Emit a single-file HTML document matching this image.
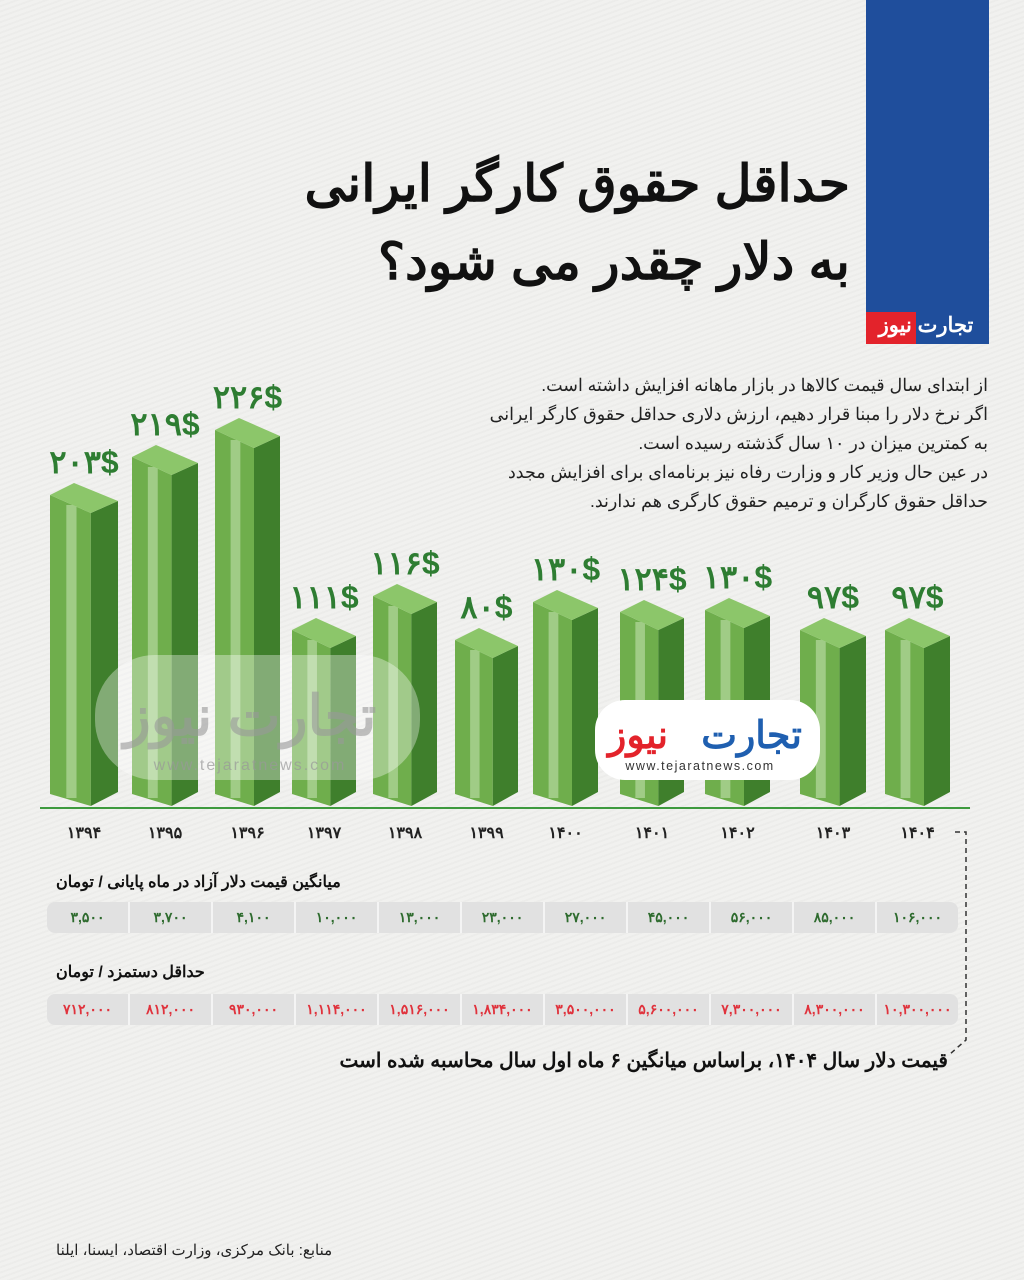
<!DOCTYPE html>
<html><head><meta charset="utf-8">
<style>
html,body{margin:0;padding:0}
body{width:1024px;height:1280px;position:relative;overflow:hidden;background:#f1f1ef;font-family:"Liberation Sans","Noto Sans CJK SC",sans-serif;}
.bg{position:absolute;inset:0;background:repeating-linear-gradient(160deg,rgba(0,0,0,0.018) 0 2px,transparent 2px 5px);}
.t{position:absolute;white-space:nowrap;direction:rtl;}
</style></head><body>
<div class="bg"></div>
<div style="position:absolute;left:866px;top:0;width:123px;height:312px;background:#1f4e9c"></div>
<div style="position:absolute;left:866px;top:312px;width:123px;height:32px;background:#1f4e9c"></div>
<div style="position:absolute;left:866px;top:312px;width:50px;height:32px;background:#e3232b"></div>
<div class="t" style="left:866px;top:313px;width:120px;text-align:center;direction:ltr;color:#fff;font-weight:bold;font-size:21px">تجارت نیوز</div>

<div class="t" style="right:174px;top:152px;font-size:51px;font-weight:bold;color:#111;line-height:64px">حداقل حقوق کارگر ایرانی</div>
<div class="t" style="right:174px;top:230px;font-size:51px;font-weight:bold;color:#111;line-height:64px">به دلار چقدر می شود؟</div>

<div class="t" style="right:36px;top:371px;font-size:17.5px;color:#222;line-height:29px;text-align:right">از ابتدای سال قیمت کالاها در بازار ماهانه افزایش داشته است.<br>اگر نرخ دلار را مبنا قرار دهیم، ارزش دلاری حداقل حقوق کارگر ایرانی<br>به کمترین میزان در ۱۰ سال گذشته رسیده است.<br>در عین حال وزیر کار و وزارت رفاه نیز برنامه‌ای برای افزایش مجدد<br>حداقل حقوق کارگران و ترمیم حقوق کارگری هم ندارند.</div>

<svg width="1024" height="1280" style="position:absolute;left:0;top:0">
<g id="bars"></g>
<line x1="40" y1="808" x2="970" y2="808" stroke="#3e9a3e" stroke-width="2"/>
<rect x="95" y="655" width="325" height="125" rx="60" fill="#fff" opacity="0.35"/>
<text x="250" y="735" font-size="56" font-weight="bold" fill="#999" opacity="0.6" text-anchor="middle" font-family="Liberation Sans, Noto Sans CJK SC, sans-serif">تجارت نیوز</text>
<text x="250" y="770" font-size="16" fill="#999" opacity="0.7" text-anchor="middle" letter-spacing="2" font-family="Liberation Sans, sans-serif">www.tejaratnews.com</text>
<rect x="595" y="700" width="225" height="80" rx="30" fill="#fff"/>
<text x="802" y="748" font-size="38" font-weight="bold" fill="#1f5fb0" text-anchor="end" font-family="Liberation Sans, Noto Sans CJK SC, sans-serif">تجارت</text>
<text x="608" y="748" font-size="38" font-weight="bold" fill="#e3232b" text-anchor="start" font-family="Liberation Sans, Noto Sans CJK SC, sans-serif">نیوز</text>
<text x="700" y="770" font-size="12.5" fill="#333" text-anchor="middle" letter-spacing="1.5" font-family="Liberation Sans, sans-serif">www.tejaratnews.com</text>
<path d="M955 832 H966 V1040 L950 1054" fill="none" stroke="#333" stroke-width="1.5" stroke-dasharray="5,4"/>
</svg>

<script>
var d=[[50,118,483,"۲۰۳$",1394],[132,198,445,"۲۱۹$",1395],[215,280,418,"۲۲۶$",1396],[292,356,618,"۱۱۱$",1397],[373,437,584,"۱۱۶$",1398],[455,518,628,"۸۰$",1399],[533,598,590,"۱۳۰$",1400],[620,684,600,"۱۲۴$",1401],[705,770,598,"۱۳۰$",1402],[800,866,618,"۹۷$",1403],[885,950,618,"۹۷$",1404]];
var fa=["۱۳۹۴","۱۳۹۵","۱۳۹۶","۱۳۹۷","۱۳۹۸","۱۳۹۹","۱۴۰۰","۱۴۰۱","۱۴۰۲","۱۴۰۳","۱۴۰۴"];
var g=document.getElementById('bars'),h='',B=806;
d.forEach(function(b,i){var x0=b[0],x1=b[1],t=b[2],xm=x0+(x1-x0)*0.6;
h+='<polygon points="'+x0+','+(t+12)+' '+xm+','+(t+30)+' '+xm+','+B+' '+x0+','+(B-12)+'" fill="#6fae4c"/>';
h+='<rect x="'+(x0+(xm-x0)*0.4)+'" y="'+(t+22)+'" width="'+((xm-x0)*0.25)+'" height="'+(B-t-30)+'" fill="#b5d9a0" opacity="0.7"/>';
h+='<polygon points="'+xm+','+(t+30)+' '+x1+','+(t+18)+' '+x1+','+(B-14)+' '+xm+','+B+'" fill="#3f7f2c"/>';
h+='<polygon points="'+x0+','+(t+12)+' '+(x0+24)+','+t+' '+x1+','+(t+18)+' '+xm+','+(t+30)+'" fill="#8cc66a"/>';
h+='<text x="'+((x0+x1)/2)+'" y="'+(t-10)+'" font-size="32" font-weight="bold" fill="#2e7d32" text-anchor="middle" font-family="Liberation Sans, Noto Sans CJK SC, sans-serif">'+b[3]+'</text>';
h+='<text x="'+((x0+x1)/2)+'" y="838" font-size="16" font-weight="bold" fill="#222" text-anchor="middle" font-family="Liberation Sans, Noto Sans CJK SC, sans-serif">'+fa[i]+'</text>';
});
g.innerHTML=h;
var r1=["۳,۵۰۰","۳,۷۰۰","۴,۱۰۰","۱۰,۰۰۰","۱۳,۰۰۰","۲۳,۰۰۰","۲۷,۰۰۰","۴۵,۰۰۰","۵۶,۰۰۰","۸۵,۰۰۰","۱۰۶,۰۰۰"];
var r2=["۷۱۲,۰۰۰","۸۱۲,۰۰۰","۹۳۰,۰۰۰","۱,۱۱۴,۰۰۰","۱,۵۱۶,۰۰۰","۱,۸۳۴,۰۰۰","۳,۵۰۰,۰۰۰","۵,۶۰۰,۰۰۰","۷,۳۰۰,۰۰۰","۸,۳۰۰,۰۰۰","۱۰,۳۰۰,۰۰۰"];
function row(arr,top,col){var s='<div style="position:absolute;left:47px;top:'+top+'px;width:911px;height:31px;background:#e1e1e1;border-radius:8px;display:flex">';
arr.forEach(function(v,i){s+='<div style="flex:1;text-align:center;line-height:31px;font-size:14px;font-weight:bold;color:'+col+';'+(i<10?'border-right:2px solid #f4f4f4;':'')+'">'+v+'</div>';});
return s+'</div>';}
document.body.insertAdjacentHTML('beforeend',row(r1,902,'#2e6b2e')+row(r2,994,'#e0323c'));
</script>
<div class="t" style="left:56px;top:872px;font-size:16px;font-weight:bold;color:#111">میانگین قیمت دلار آزاد در ماه پایانی / تومان</div>
<div class="t" style="left:56px;top:962px;font-size:16px;font-weight:bold;color:#111">حداقل دستمزد / تومان</div>
<div class="t" style="right:76px;top:1048px;font-size:20px;font-weight:bold;color:#111">قیمت دلار سال ۱۴۰۴، براساس میانگین ۶ ماه اول سال محاسبه شده است</div>
<div class="t" style="left:56px;top:1241px;font-size:15px;color:#222">منابع: بانک مرکزی، وزارت اقتصاد، ایسنا، ایلنا</div>
</body></html>
